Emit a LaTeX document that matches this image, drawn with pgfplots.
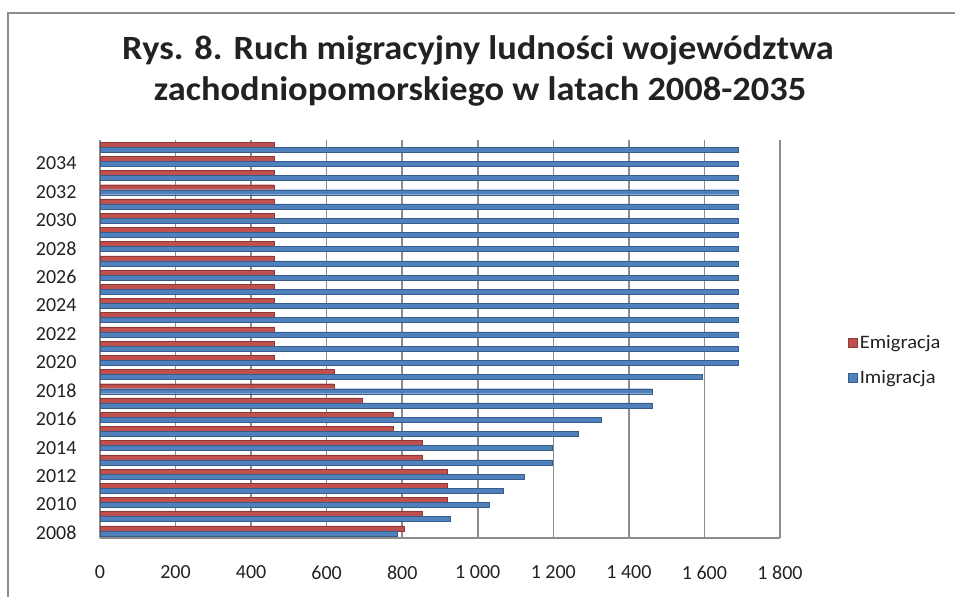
\documentclass[border=0pt]{standalone}
\usepackage{pgfplots}
\pgfplotsset{compat=1.18}
\usepackage{pgfplotstable}
\usepackage{fontspec}
\setmainfont{Carlito}
\definecolor{exred}{HTML}{C0504D}
\definecolor{exredd}{HTML}{8C3836}
\definecolor{exblue}{HTML}{4F81BD}
\definecolor{exblued}{HTML}{385D8A}
\definecolor{gridc}{HTML}{8C8C8C}
\definecolor{txt}{HTML}{222222}

\pgfplotstableread{
year emi imi
2008 805 787
2009 852 927
2010 918 1030
2011 918 1068
2012 918 1123
2013 852 1197
2014 852 1197
2015 775 1266
2016 775 1327
2017 695 1462
2018 620 1462
2019 620 1595
2020 460 1690
2021 460 1690
2022 460 1690
2023 460 1690
2024 460 1690
2025 460 1690
2026 460 1690
2027 460 1690
2028 460 1690
2029 460 1690
2030 460 1690
2031 460 1690
2032 460 1690
2033 460 1690
2034 460 1690
2035 460 1690
}\datatable

\begin{document}
\begin{tikzpicture}[x=1pt,y=1pt]
\useasboundingbox (0,0) rectangle (955,597);
\draw[gridc, line width=2pt] (8,0) -- (8,584) -- (955,584);
\node[anchor=base, font=\fontsize{34}{34}\selectfont\bfseries, text=txt, xscale=1.07] at (478,537) {Rys. 8. Ruch migracyjny ludności województwa};
\node[anchor=base, font=\fontsize{34}{34}\selectfont\bfseries, text=txt, xscale=1.07] at (480,496) {zachodniopomorskiego w latach 2008-2035};
\begin{axis}[
  at={(100pt,59pt)}, anchor=south west,
  scale only axis, width=680pt, height=398pt,
  xbar, bar width=5pt,
  xmin=0, xmax=1800, ymin=2007.5, ymax=2035.5,
  xtick={0,200,...,1800},
  ytick={2008,2010,...,2034},
  major tick length=0pt,
  axis x line*=bottom, axis y line*=left,
  axis line style={gridc, line width=1.5pt},
  xmajorgrids, major grid style={gridc, line width=1.5pt},
  /pgf/number format/assume math mode=true,
  /pgf/number format/1000 sep={\ },
  xticklabel style={font=\fontsize{20}{20}\selectfont, text=txt, yshift=-24pt},
  yticklabel style={font=\fontsize{20}{20}\selectfont, text=txt, xshift=-20pt, yshift=-2pt},
  yticklabel={\pgfmathprintnumber[1000 sep=]{\tick}},
  legend style={at={(1.1,0.515)}, anchor=north west, draw=none, fill=none,
    font=\fontsize{19}{19}\selectfont, text=txt, row sep=17pt, inner sep=0pt,
    nodes={xscale=1.08, anchor=west}},
  legend cell align=left,
  legend image code/.code={\fill[#1] (0pt,-4.5pt) rectangle (9pt,4.5pt);},
]
\addplot[fill=exred, draw=exredd, bar shift=2.5pt] table[x=emi, y=year] {\datatable};
\addlegendentry{Emigracja}
\addplot[fill=exblue, draw=exblued, bar shift=-2.5pt] table[x=imi, y=year] {\datatable};
\addlegendentry{Imigracja}
\end{axis}
\end{tikzpicture}
\end{document}
